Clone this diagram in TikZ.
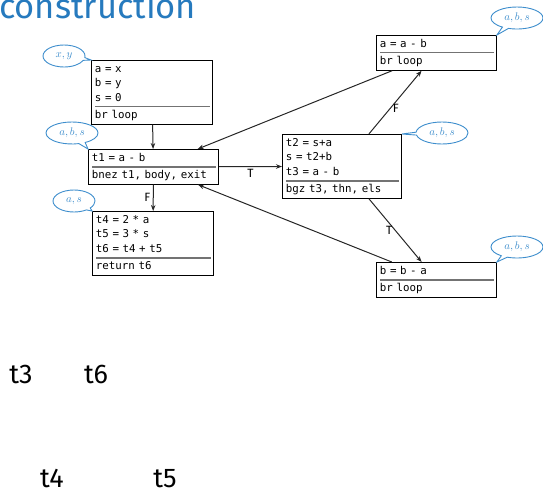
\documentclass[tikz,border=0pt]{standalone}
\usepackage{fontspec}
\setmainfont{Fira Sans}
\setmonofont{DejaVu Sans Mono}[WordSpace={1,0,0}]
\usetikzlibrary{shapes.multipart,shapes.callouts,arrows.meta}
\definecolor{slideblue}{RGB}{38,122,190}
\definecolor{noteblue}{RGB}{62,142,205}

\begin{document}
\begin{tikzpicture}[x=1pt,y=-1pt,->,>={Stealth[length=6pt,width=4.5pt]},line width=1pt,draw=black!85]
    \tikzstyle{block}=[rectangle split, rectangle split parts=2,
        rectangle split draw splits=false, draw=black, line width=0.9pt,
        anchor=north west, text width=114pt, inner xsep=3.5pt, inner ysep=1pt,
        align=left, font=\ttfamily\fontsize{10.8}{14.5}\selectfont]
    \tikzstyle{divider}=[-, draw=black!55, line width=1.3pt]
    \tikzstyle{note}=[ellipse callout, draw=noteblue, fill=white, text=noteblue,
        line width=0.9pt, minimum width=52pt, minimum height=22pt, inner sep=0pt,
        font=\fontsize{11}{12}\selectfont]
    \tikzstyle{lbl}=[font=\fontsize{12}{13}\selectfont, text=black, inner sep=2.5pt]
    \tikzstyle{var}=[font=\fontsize{27}{29}\selectfont, anchor=base, inner sep=0pt]

    \useasboundingbox (0,0) rectangle (543,492);

    % slide title, cut by the top edge
    \node[font=\fontsize{34.5}{38}\selectfont, text=slideblue, anchor=base west,
        inner sep=0pt] (title) at (-1.5,18.5) {construction};

    % basic blocks
    \node[block] (entry) at (91,60)
        {\strut a = x\\ b = y\\ s = 0\strut\nodepart{two}\strut br loop\strut};
    \node[block, text width=123pt] (loop) at (88,149)
        {\strut t1 = a - b\strut\nodepart{two}\strut bnez t1, body, exit\strut};
    \node[block] (exit) at (92,211)
        {\strut t4 = 2 * a\\ t5 = 3 * s\\ t6 = t4 + t5\strut\nodepart{two}\strut return t6\strut};
    \node[block, text width=112pt] (body) at (282,134)
        {\strut t2 = s+a\\ s = t2+b\\ t3 = a - b\strut\nodepart{two}\strut bgz t3, thn, els\strut};
    \node[block, text width=113pt] (thn) at (376,35)
        {\strut a = a - b\strut\nodepart{two}\strut br loop\strut};
    \node[block, text width=113pt] (els) at (376,262)
        {\strut b = b - a\strut\nodepart{two}\strut br loop\strut};

    % dividers inside the blocks
    \foreach \blk in {entry,loop,exit,body,thn,els}
        \draw[divider] ([xshift=4pt]\blk.text split west) -- ([xshift=-3pt]\blk.text split east);

    % live variables
    \node[note, minimum width=42pt, callout absolute pointer={(entry.north west)}] (live-entry) at (64,56) {$x, y$};
    \node[note, callout absolute pointer={(loop.north west)}] (live-loop) at (72,133) {$a, b, s$};
    \node[note, minimum width=42pt, callout absolute pointer={(exit.north west)}] (live-exit) at (74,201) {$a, s$};
    \node[note, callout absolute pointer={(body.north east)}] (live-body) at (442,133) {$a, b, s$};
    \node[note, callout absolute pointer={(thn.north east)}] (live-thn) at (517,18) {$a, b, s$};
    \node[note, callout absolute pointer={(els.north east)}] (live-els) at (517,247) {$a, b, s$};

    % control flow
    \path (entry) edge (loop);
    \path (loop) edge node[lbl, below] (t-body) {T} (body);
    \path (loop) edge node[lbl, left] (f-exit) {F} (exit);
    \path (body) edge node[lbl, pos=0.4, right] (f-thn) {F} (thn);
    \path (body) edge node[lbl, left] (t-els) {T} (els);
    \path (thn) edge (loop);
    \path (els) edge (loop);

    % temporaries
    \node[var] (v-t3) at (21,383) {t3};
    \node[var] (v-t6) at (96,383) {t6};
    \node[var] (v-t4) at (52,487) {t4};
    \node[var] (v-t5) at (165,487) {t5};
\end{tikzpicture}
\end{document}
